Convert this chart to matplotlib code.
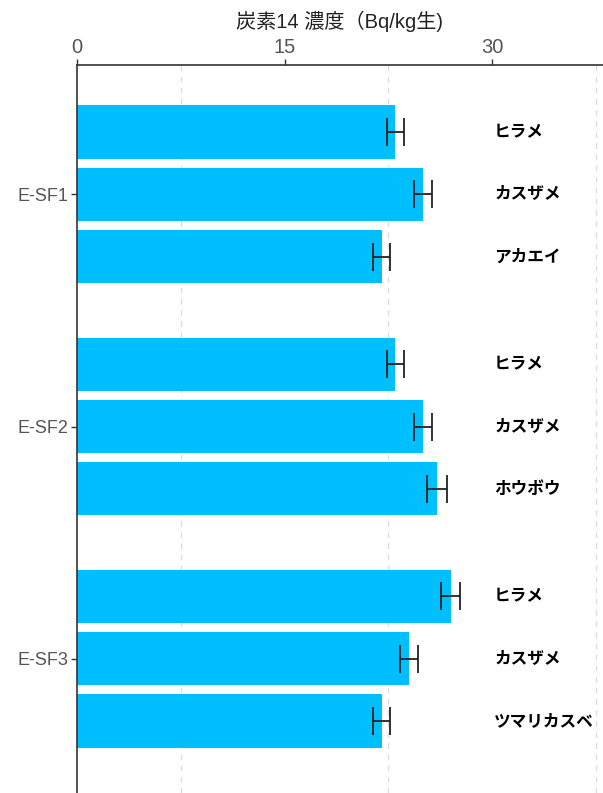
import numpy as np
import matplotlib
matplotlib.use('Agg')
import matplotlib.pyplot as plt

plt.rcParams['font.family'] = ['Liberation Sans', 'Noto Sans CJK JP', 'DejaVu Sans']

groups = ['E-SF1', 'E-SF2', 'E-SF3']
species = [['ヒラメ', 'カスザメ', 'アカエイ'],
           ['ヒラメ', 'カスザメ', 'ホウボウ'],
           ['ヒラメ', 'カスザメ', 'ツマリカスベ']]
values = [[23.0, 25.0, 22.0],
          [23.0, 25.0, 26.0],
          [27.0, 24.0, 22.0]]
errors = [[0.6, 0.67, 0.63],
          [0.6, 0.67, 0.7],
          [0.7, 0.66, 0.63]]

group_gap = 3.73
pos = []
vals = []
errs = []
labels = []
for g in range(len(groups)):
    for j in range(3):
        pos.append(g * group_gap + j)
        vals.append(values[g][j])
        errs.append(errors[g][j])
        labels.append(species[g][j])
pos = np.array(pos)

fig = plt.figure(figsize=(6.03, 7.93), dpi=100)
ax = fig.add_axes([77 / 603, 0, 1 - 77 / 603, 1 - 65 / 793])

# gridlines at the minor positions only
for gx in [7.5, 22.5, 37.5]:
    ax.axvline(gx, color='#DDDDDD', ls=(0, (4, 4)), lw=1, zorder=0)

ax.barh(pos, vals, height=0.86, color='#00BFFF', zorder=2)
ax.errorbar(vals, pos, xerr=errs, fmt='none', ecolor='#222222',
            elinewidth=1.3, capsize=10, capthick=1.3, zorder=3)

for p, lab in zip(pos, labels):
    ax.text(0.793, p, lab, transform=ax.get_yaxis_transform(),
            ha='left', va='center', fontsize=12, fontweight='bold', color='black',
            family=['Noto Sans CJK JP'])

ax.set_xlim(0, 38)
ax.set_ylim(pos[-1] + 1.16, -1.08)
ax.xaxis.tick_top()
ax.xaxis.set_label_position('top')
ax.set_xticks([0, 15, 30])
ax.set_xlabel('炭素14 濃度（Bq/kg生)', fontsize=14.5, color='#222222', labelpad=7)
ax.set_yticks([g * group_gap + 1 for g in range(len(groups))])
ax.set_yticklabels(groups)
ax.tick_params(axis='x', labelsize=14.5, pad=2)
ax.tick_params(axis='y', labelsize=13, pad=2)
ax.tick_params(axis='both', colors='#333333', labelcolor='#555555',
               length=4, width=1)
for s in ['right', 'bottom']:
    ax.spines[s].set_visible(False)
for s in ['top', 'left']:
    ax.spines[s].set_color('#333333')
    ax.spines[s].set_linewidth(1.2)

fig.savefig('out.png', dpi=100)
